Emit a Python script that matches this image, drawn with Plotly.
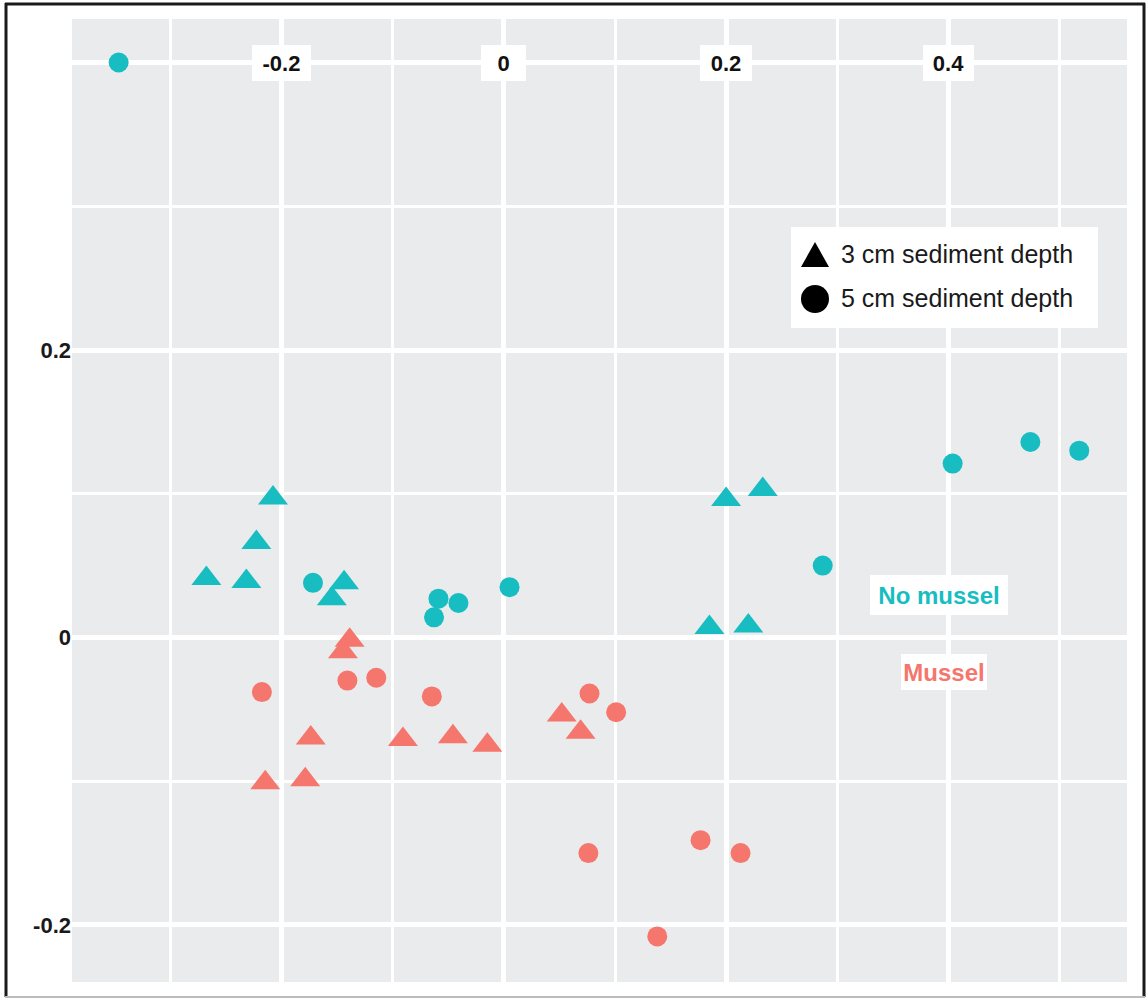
import plotly.graph_objects as go

# Ordination scores (axis 1, axis 2) by treatment and sediment depth
no_mussel_3cm_x = [-0.208, -0.223, -0.268, -0.232, -0.144, -0.155, 0.200, 0.233, 0.185, 0.220]
no_mussel_3cm_y = [0.097, 0.066, 0.041, 0.039, 0.038, 0.027, 0.096, 0.103, 0.007, 0.008]
no_mussel_5cm_x = [-0.347, -0.172, -0.059, -0.063, -0.041, 0.005, 0.287, 0.404, 0.474, 0.518]
no_mussel_5cm_y = [0.400, 0.038, 0.027, 0.014, 0.024, 0.035, 0.050, 0.121, 0.136, 0.130]
mussel_3cm_x = [-0.139, -0.145, -0.174, -0.215, -0.179, -0.091, -0.046, -0.015, 0.052, 0.069]
mussel_3cm_y = [-0.002, -0.010, -0.070, -0.101, -0.099, -0.071, -0.069, -0.075, -0.054, -0.066]
mussel_5cm_x = [-0.218, -0.141, -0.115, -0.065, 0.077, 0.101, 0.076, 0.177, 0.213, 0.138]
mussel_5cm_y = [-0.038, -0.030, -0.028, -0.041, -0.039, -0.052, -0.150, -0.141, -0.150, -0.208]

x_major = [-0.2, 0, 0.2, 0.4]
x_labels = ["-0.2", "0", "0.2", "0.4"]
x_minor = [-0.3, -0.1, 0.1, 0.3, 0.5]
y_major = [-0.2, 0, 0.2, 0.4]
y_labels = ["-0.2", "0", "0.2", ""]
y_minor = [-0.1, 0.1, 0.3]

depth_labels = ["3 cm sediment depth", "5 cm sediment depth"]
group_labels = ["No mussel", "Mussel"]

TEAL = "#17BDC1"
SALMON = "#F4766D"
FONT = "Liberation Sans, Arial, Helvetica, sans-serif"

W, H = 1147, 999
L, R, T, B = 72, 20, 19, 17


def px_x(px):
    return (px - L) / (W - L - R)


def px_y(py):
    return (H - B - py) / (H - T - B)


fig = go.Figure()

series = [
    (no_mussel_3cm_x, no_mussel_3cm_y, TEAL, "triangle-up", 26),
    (no_mussel_5cm_x, no_mussel_5cm_y, TEAL, "circle", 20),
    (mussel_3cm_x, mussel_3cm_y, SALMON, "triangle-up", 26),
    (mussel_5cm_x, mussel_5cm_y, SALMON, "circle", 20),
]
for xs, ys, col, sym, size in series:
    fig.add_trace(go.Scatter(
        x=xs, y=ys, mode="markers",
        marker=dict(color=col, symbol=sym, size=size, line=dict(width=0)),
        hoverinfo="x+y",
    ))

grid = "white"
fig.update_xaxes(
    range=[-0.389, 0.561], tickmode="array", tickvals=x_major,
    showticklabels=False, ticks="", showgrid=True, gridcolor=grid, gridwidth=5,
    zeroline=False, showline=False,
    minor=dict(tickvals=x_minor, showgrid=True, gridcolor=grid, gridwidth=2.5, ticks=""),
)
fig.update_yaxes(
    range=[-0.2397, 0.4303], tickmode="array", tickvals=y_major, ticktext=y_labels,
    ticks="", ticklabelstandoff=0,
    tickfont=dict(family=FONT, size=22, color="#1a1a1a", weight="bold"),
    showgrid=True, gridcolor=grid, gridwidth=5, zeroline=False, showline=False,
    minor=dict(tickvals=y_minor, showgrid=True, gridcolor=grid, gridwidth=2.5, ticks=""),
)

annotations = []
# x-axis tick labels in white boxes along the top major gridline
label_w = {"-0.2": 59, "0": 45, "0.2": 52, "0.4": 51}
for v, lab in zip(x_major, x_labels):
    annotations.append(dict(
        x=v, y=y_major[-1], xref="x", yref="y", text=lab, showarrow=False,
        font=dict(family=FONT, size=22, color="#111111", weight="bold"),
        bgcolor="white", borderpad=0, borderwidth=0,
        width=label_w[lab], height=36, xanchor="center", yanchor="middle",
    ))

# Treatment labels
annotations.append(dict(
    x=px_x(939), y=px_y(595), xref="paper", yref="paper", text=group_labels[0],
    showarrow=False, font=dict(family=FONT, size=24, color=TEAL, weight="bold"),
    bgcolor="white", borderpad=0, borderwidth=0, width=138, height=40,
    xanchor="center", yanchor="middle",
))
annotations.append(dict(
    x=px_x(944), y=px_y(672), xref="paper", yref="paper", text=group_labels[1],
    showarrow=False, font=dict(family=FONT, size=24, color=SALMON, weight="bold"),
    bgcolor="white", borderpad=0, borderwidth=0, width=86, height=36,
    xanchor="center", yanchor="middle",
))

# Depth key text
for lab, py in zip(depth_labels, [254, 298]):
    annotations.append(dict(
        x=px_x(839), y=px_y(py), xref="paper", yref="paper", text=lab,
        showarrow=False, xanchor="left", yanchor="middle",
        font=dict(family=FONT, size=25, color="#1a1a1a"),
    ))

shapes = [
    # depth key box
    dict(type="rect", xref="paper", yref="paper", x0=px_x(791), x1=px_x(1098),
         y0=px_y(328), y1=px_y(227), fillcolor="white", line=dict(width=0), layer="above"),
    # key symbols
    dict(type="path", xref="paper", yref="paper", xsizemode="pixel", ysizemode="pixel",
         xanchor=px_x(815), yanchor=px_y(255), path="M -14,-12 L 14,-12 L 0,13 Z",
         fillcolor="black", line=dict(width=0)),
    dict(type="circle", xref="paper", yref="paper", xsizemode="pixel", ysizemode="pixel",
         xanchor=px_x(815), yanchor=px_y(299), x0=-14, x1=14, y0=-14, y1=14,
         fillcolor="black", line=dict(width=0)),
    # outer frame
    dict(type="line", xref="paper", yref="paper", x0=px_x(6), x1=px_x(6), y0=px_y(3), y1=px_y(997),
         line=dict(color="#1a1a1a", width=3)),
    dict(type="line", xref="paper", yref="paper", x0=px_x(5), x1=px_x(1145), y0=px_y(4), y1=px_y(4),
         line=dict(color="#1a1a1a", width=3)),
    dict(type="line", xref="paper", yref="paper", x0=px_x(1144), x1=px_x(1144), y0=px_y(3), y1=px_y(997),
         line=dict(color="#1a1a1a", width=3)),
    dict(type="line", xref="paper", yref="paper", x0=px_x(5), x1=px_x(1145), y0=px_y(997), y1=px_y(997),
         line=dict(color="#bbbbbb", width=2)),
]

fig.update_layout(
    width=W, height=H, margin=dict(l=L, r=R, t=T, b=B),
    paper_bgcolor="white", plot_bgcolor="#EAEBED",
    showlegend=False, annotations=annotations, shapes=shapes,
    font=dict(family=FONT),
)

fig.write_html("out.html")
